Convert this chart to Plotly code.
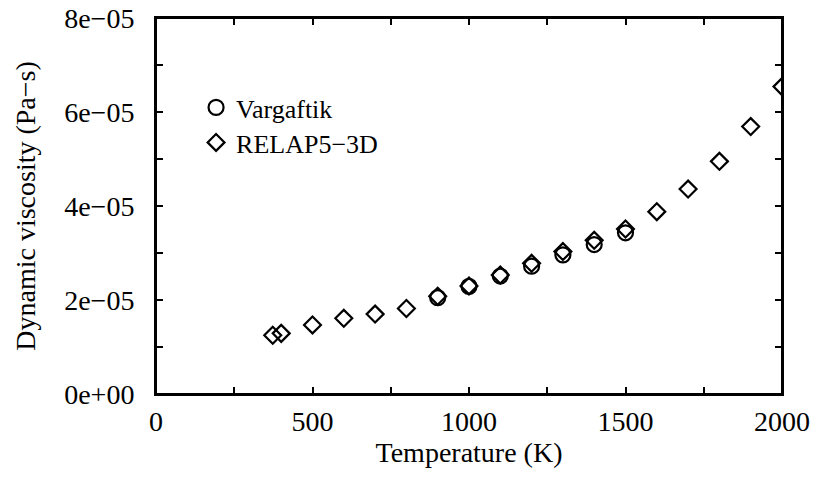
import plotly.graph_objects as go

# Data
vargaftik_T = [900, 1000, 1100, 1200, 1300, 1400, 1500]
vargaftik_mu = [2.05e-5, 2.29e-5, 2.51e-5, 2.72e-5, 2.96e-5, 3.18e-5, 3.43e-5]

relap_T = [373, 400, 500, 600, 700, 800, 900, 1000, 1100, 1200, 1300, 1400,
           1500, 1600, 1700, 1800, 1900, 2000]
relap_mu = [1.25e-5, 1.29e-5, 1.47e-5, 1.61e-5, 1.70e-5, 1.82e-5, 2.08e-5,
            2.30e-5, 2.53e-5, 2.78e-5, 3.03e-5, 3.27e-5, 3.51e-5, 3.88e-5,
            4.36e-5, 4.95e-5, 5.69e-5, 6.54e-5]

x_tickvals = [0, 250, 500, 750, 1000, 1250, 1500, 1750, 2000]
x_ticktext = ["0", "", "500", "", "1000", "", "1500", "", "2000"]
y_tickvals = [0, 1e-5, 2e-5, 3e-5, 4e-5, 5e-5, 6e-5, 7e-5, 8e-5]
y_ticktext = ["0e+00", "", "2e\u221205", "", "4e\u221205", "", "6e\u221205", "", "8e\u221205"]

FONT = "Liberation Serif, Times New Roman, serif"
FS = 28
LFS = 26

fig = go.Figure()
fig.add_trace(go.Scatter(
    x=vargaftik_T, y=vargaftik_mu, mode="markers", name="Vargaftik",
    legend="legend",
    marker=dict(symbol="circle-open", size=15, color="black", line=dict(width=2.2, color="black")),
))
fig.add_trace(go.Scatter(
    x=relap_T, y=relap_mu, mode="markers", name="RELAP5\u22123D",
    legend="legend2",
    marker=dict(symbol="diamond-open", size=13, color="black", line=dict(width=2.2, color="black")),
))

axis_common = dict(
    showgrid=False, zeroline=False, showline=True, linecolor="black", linewidth=2,
    mirror="allticks", ticks="inside", ticklen=7, tickwidth=2, tickcolor="black",
    tickfont=dict(family=FONT, size=FS, color="black"),
)

fig.update_xaxes(
    range=[0, 2000], tickmode="array", tickvals=x_tickvals, ticktext=x_ticktext,
    title=dict(text="Temperature (K)", font=dict(family=FONT, size=FS, color="black"), standoff=6),
    ticklabelstandoff=1,
    **axis_common,
)
fig.update_yaxes(
    range=[0, 8e-5], tickmode="array", tickvals=y_tickvals, ticktext=y_ticktext,
    title=dict(text="Dynamic viscosity (Pa\u2212s)", font=dict(family=FONT, size=FS, color="black"), standoff=20),
    ticklabelstandoff=14,
    **axis_common,
)

legend_common = dict(
    xanchor="left", yanchor="top",
    bgcolor="rgba(0,0,0,0)", borderwidth=0,
    font=dict(family=FONT, size=LFS, color="black"),
)

fig.update_layout(
    width=814, height=479,
    margin=dict(l=156, r=32, t=18, b=85, autoexpand=False),
    paper_bgcolor="white", plot_bgcolor="white",
    font=dict(family=FONT, size=FS, color="black"),
    showlegend=True,
    legend=dict(x=0.064, y=0.8245, **legend_common),
    legend2=dict(x=0.064, y=0.7314, **legend_common),
    shapes=[dict(type="rect", xref="paper", yref="paper", x0=0, x1=1, y0=0, y1=1,
                 line=dict(color="black", width=2), fillcolor="rgba(0,0,0,0)", layer="above")],
)

fig.write_html("out.html")
